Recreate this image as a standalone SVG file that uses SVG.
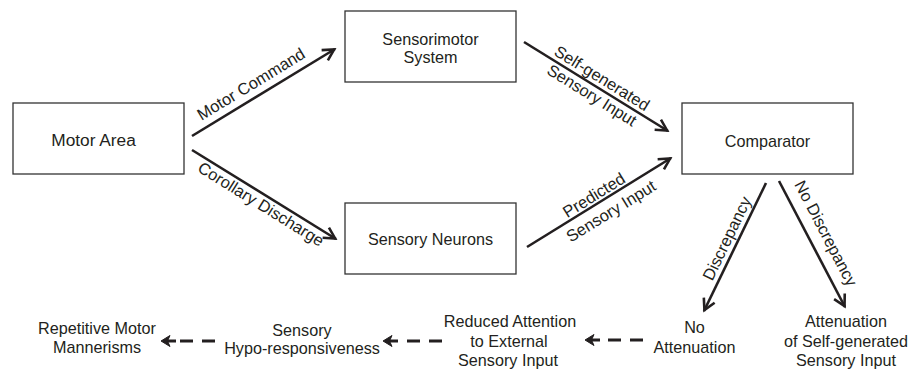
<svg xmlns="http://www.w3.org/2000/svg" width="912" height="370" viewBox="0 0 912 370">
<style>
.box{fill:#fff;stroke:#333;stroke-width:1.3}
text{font-family:"Liberation Sans",Arial,Helvetica,sans-serif;font-size:16.2px;fill:#231f20;text-anchor:middle}
.rl{font-size:16.5px}
.sol{fill:none;stroke:#231f20;stroke-width:2.6;marker-end:url(#ah)}
.dsh{fill:none;stroke:#231f20;stroke-width:3;stroke-dasharray:13 9;marker-end:url(#dh)}
</style>
<defs>
<marker id="ah" markerUnits="userSpaceOnUse" orient="auto" markerWidth="30" markerHeight="30" viewBox="-20 -15 30 30" refX="0" refY="0" overflow="visible">
<path d="M-12,-6 L-1,0 L-12,6" fill="none" stroke="#231f20" stroke-width="2.6" stroke-linejoin="miter"/>
</marker>
<marker id="dh" markerUnits="userSpaceOnUse" orient="auto" markerWidth="30" markerHeight="30" viewBox="-5 -15 30 30" refX="0" refY="0" overflow="visible">
<path d="M0,0 H12" stroke="#231f20" stroke-width="3" fill="none"/>
<path d="M15,0 L6,-5.5 L8.5,0 L6,5.5 Z" fill="#231f20" stroke="#231f20" stroke-width="1" stroke-linejoin="round"/>
</marker>
</defs>

<g id="motor-area"><rect class="box" x="13" y="103" width="171" height="71"/><text x="93.5" y="146" style="font-size:17.3px">Motor Area</text></g>
<g id="sensorimotor-system"><rect class="box" x="345" y="11" width="171" height="71"/><text x="430.5" y="44.5">Sensorimotor</text><text x="430.5" y="63">System</text></g>
<g id="comparator"><rect class="box" x="682" y="103" width="171" height="71"/><text x="767.5" y="146.5">Comparator</text></g>
<g id="sensory-neurons"><rect class="box" x="345" y="203" width="171" height="71"/><text x="430.5" y="245">Sensory Neurons</text></g>
<g id="repetitive-motor"><text x="97" y="334">Repetitive Motor</text><text x="97" y="353">Mannerisms</text></g>
<g id="sensory-hypo"><text x="302" y="335.5">Sensory</text><text x="302" y="354">Hypo-responsiveness</text></g>
<g id="reduced-attention"><text x="510" y="326.5">Reduced Attention</text><text x="509" y="346.5">to External</text><text x="508" y="366">Sensory Input</text></g>
<g id="no-attenuation"><text x="694.5" y="333">No</text><text x="694.5" y="353">Attenuation</text></g>
<g id="attenuation"><text x="846" y="326.5">Attenuation</text><text x="846" y="346.5">of Self-generated</text><text x="846" y="366">Sensory Input</text></g>

<g id="connectors">
<path class="sol" d="M192,136 L335,49"/>
<path class="sol" d="M192,150 L336,239"/>
<path class="sol" d="M524,42 L668,131"/>
<path class="sol" d="M527,247 L671,158"/>
<path class="sol" d="M766,183 L704,311"/>
<path class="sol" d="M779,181 L845,307"/>
<path class="dsh" d="M643,340 H600"/>
<path class="dsh" d="M442,341 H398"/>
<path class="dsh" d="M215,341 H176"/>
<text class="rl" transform="translate(254,89) rotate(-31.4)">Motor Command</text>
<text class="rl" transform="translate(258,209) rotate(31.8)">Corollary Discharge</text>
<text class="rl" transform="translate(599,83) rotate(31.8)">Self-generated</text>
<text class="rl" transform="translate(589,100) rotate(31.8)">Sensory Input</text>
<text class="rl" transform="translate(597,200) rotate(-31.8)">Predicted</text>
<text class="rl" transform="translate(614,216) rotate(-31.8)">Sensory Input</text>
<text class="rl" transform="translate(732,241) rotate(-64.1)">Discrepancy</text>
<text class="rl" transform="translate(821,236) rotate(62.5)">No Discrepancy</text>
</g>
</svg>
